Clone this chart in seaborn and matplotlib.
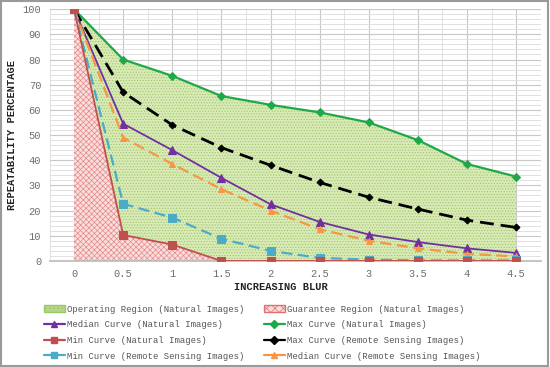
import numpy as np
import pandas as pd
import matplotlib
matplotlib.use("Agg")
import matplotlib.pyplot as plt
import seaborn as sns
from matplotlib.ticker import MultipleLocator
from matplotlib.patches import Patch
from matplotlib.lines import Line2D

# ***** data ***** #
blur = [0, 0.5, 1, 1.5, 2, 2.5, 3, 3.5, 4, 4.5]
max_natural = [100, 80, 73.5, 65.5, 62, 59, 55, 48, 38.5, 33.5]
median_natural = [100, 54.5, 44, 33, 22.5, 15.5, 10.5, 7.5, 5, 3.2]
min_natural = [100, 10.3, 6.5, 0, 0, 0, 0, 0, 0, 0]
max_remote = [100, 67, 54, 45, 38, 31.2, 25.3, 20.6, 16.2, 13.3]
median_remote = [100, 49, 38.5, 28.5, 20, 12.6, 8, 5, 2.8, 1.8]
min_remote = [100, 22.7, 17.2, 8.8, 4, 1.2, 0.5, 0.2, 0.2, 0.2]

sns.set_theme(style="white")
plt.rcParams["font.family"] = ["Liberation Mono", "DejaVu Sans Mono"]
plt.rcParams["hatch.linewidth"] = 0.5

fig = plt.figure(figsize=(5.5, 3.67), dpi=100)
ax = fig.add_axes([0.09, 0.289, 0.893, 0.686])

# regions
ax.fill_between(blur, min_natural, max_natural, facecolor="#d9eab8",
                edgecolor="#9cc764", hatch="......", linewidth=0, zorder=1)
ax.fill_between(blur, 0, min_natural, facecolor="#fadede",
                edgecolor="#e58a8a", hatch="xxxxxx", linewidth=0, zorder=1)

# curves: (values, label, colour, marker, dashes, width, marker size)
curves = [
    (max_natural, "Max Curve (Natural Images)", "#1fa84a", "D", "", 1.6, 4),
    (max_remote, "Max Curve (Remote Sensing Images)", "black", "D", (5, 2.5), 2.0, 3.5),
    (median_natural, "Median Curve (Natural Images)", "#7030a0", "^", "", 1.3, 6),
    (median_remote, "Median Curve (Remote Sensing Images)", "#f79646", "^", (5, 2.5), 1.6, 4.5),
    (min_remote, "Min Curve (Remote Sensing Images)", "#4bacc6", "s", (5, 2.5), 1.6, 5.5),
    (min_natural, "Min Curve (Natural Images)", "#c0504d", "s", "", 1.3, 5.5),
]
for vals, name, col, mk, ds, lw, ms in curves:
    df = pd.DataFrame({"blur": blur, "val": vals})
    sns.lineplot(data=df, x="blur", y="val", ax=ax, color=col, marker=mk,
                 markersize=ms, markeredgecolor=col, linewidth=lw, zorder=3)
    if ds:
        ax.lines[-1].set_dashes(ds)

ax.set_xlim(-0.25, 4.75)
ax.set_ylim(0, 100)
ax.xaxis.set_minor_locator(MultipleLocator(0.25))
ax.yaxis.set_major_locator(MultipleLocator(10))
ax.yaxis.set_minor_locator(MultipleLocator(2))
ax.set_xticks(blur)
ax.set_xticklabels(["0", "0.5", "1", "1.5", "2", "2.5", "3", "3.5", "4", "4.5"])
ax.grid(which="major", color="#c8c8c8", linewidth=0.8, zorder=0)
ax.grid(which="minor", color="#dcdcdc", linewidth=0.6, zorder=0)
ax.set_axisbelow(True)
for s in ax.spines.values():
    s.set_visible(False)
ax.spines["bottom"].set_visible(True)
ax.spines["bottom"].set_color("#bdbdbd")
ax.tick_params(labelsize=7.5, labelcolor="#6e6e6e", length=0, pad=6)

ax.set_xlabel("INCREASING BLUR", fontsize=7.5, fontweight="bold", color="#222222")
ax.xaxis.set_label_coords(0.471, -0.082)
ax.set_ylabel("REPEATABILITY PERCENTAGE", fontsize=7.5, fontweight="bold", color="#222222", labelpad=4)

# legend, column-wise order
h = {
    "op": Patch(facecolor="#b5d58a", edgecolor="#9cc764", hatch="....", label="Operating Region (Natural Images)"),
    "gu": Patch(facecolor="#fadede", edgecolor="#e07070", hatch="xxxx", label="Guarantee Region (Natural Images)"),
}
for vals, name, col, mk, ds, lw, ms in curves:
    h[name] = Line2D([], [], color=col, marker=mk, markersize=4, linewidth=1.6, label=name)
order = [h["op"], h["Median Curve (Natural Images)"], h["Min Curve (Natural Images)"],
         h["Min Curve (Remote Sensing Images)"],
         h["gu"], h["Max Curve (Natural Images)"], h["Max Curve (Remote Sensing Images)"],
         h["Median Curve (Remote Sensing Images)"]]
fig.legend(handles=order, ncol=2, loc="upper left", bbox_to_anchor=(0.065, 0.192),
           frameon=False, fontsize=6.4, labelcolor="#555555", handlelength=2.4,
           handletextpad=0.2, columnspacing=2.2, labelspacing=0.75)

fig.patches.append(plt.Rectangle((0.002, 0.003), 0.995, 0.994, transform=fig.transFigure,
                                 fill=False, edgecolor="#9a9a9a", linewidth=1.5))
fig.savefig("out.png", dpi=100)
